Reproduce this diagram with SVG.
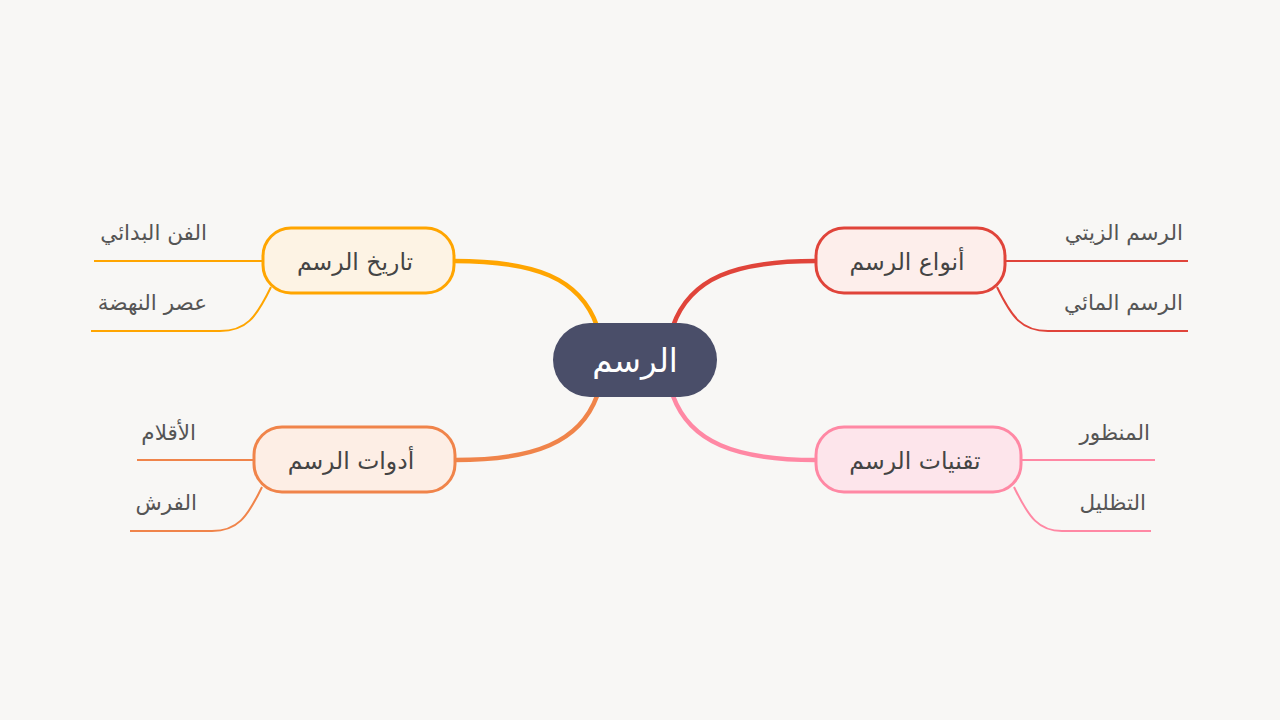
<svg xmlns="http://www.w3.org/2000/svg" width="1280" height="720" viewBox="0 0 1280 720">
<style>
text{font-family:"DejaVu Sans","Noto Sans",sans-serif}
.main{fill:#ffffff;font-size:32.5px;text-anchor:middle}
.lbl{fill:#444444;font-size:23.5px;text-anchor:middle}
.sub{fill:#555555;font-size:21.5px;text-anchor:end}
.c{fill:none;stroke-width:4.5;stroke-linecap:round}
.s{fill:none;stroke-width:2}
</style>
<rect width="1280" height="720" fill="#f8f7f5"/>
<g id="connectors">
<path class="c" stroke="#e0443a" d="M673,326 C690,278 735,261 816,261"/>
<path class="c" stroke="#ffa500" d="M597,326 C580,278 535,261 454,261"/>
<path class="c" stroke="#f0844a" d="M597,396 C580,442 535,460 455,460"/>
<path class="c" stroke="#ff88a4" d="M673,396 C690,442 735,460 816,460"/>
<path class="s" stroke="#e0443a" d="M1005,261 L1188,261"/>
<path class="s" stroke="#e0443a" d="M997,287 C1012,318 1022,331 1048,331 L1188,331"/>
<path class="s" stroke="#ffa500" d="M263,261 L94,261"/>
<path class="s" stroke="#ffa500" d="M271,287 C256,318 246,331 220,331 L91,331"/>
<path class="s" stroke="#f0844a" d="M254,460 L137,460"/>
<path class="s" stroke="#f0844a" d="M262,487 C247,518 237,531 212,531 L130,531"/>
<path class="s" stroke="#ff88a4" d="M1021,460 L1155,460"/>
<path class="s" stroke="#ff88a4" d="M1014,487 C1029,518 1039,531 1062,531 L1151,531"/>
</g>
<g id="center">
<rect x="553" y="323" width="164" height="74" rx="37" fill="#4a4e69"/>
<text class="main" x="635" y="372">الرسم</text>
</g>
<g id="types">
<rect x="816" y="228" width="189" height="65" rx="28" fill="#fdeeeb" stroke="#e0443a" stroke-width="3"/>
<text class="lbl" x="907" y="270">أنواع الرسم</text>
</g>
<g id="history">
<rect x="263" y="228" width="191" height="65" rx="28" fill="#fdf3e4" stroke="#ffa500" stroke-width="3"/>
<text class="lbl" x="355" y="270">تاريخ الرسم</text>
</g>
<g id="tools">
<rect x="254" y="427" width="201" height="65" rx="28" fill="#fdeee5" stroke="#f0844a" stroke-width="3"/>
<text class="lbl" x="351" y="469">أدوات الرسم</text>
</g>
<g id="techniques">
<rect x="816" y="427" width="205" height="65" rx="28" fill="#fde5eb" stroke="#ff88a4" stroke-width="3"/>
<text class="lbl" x="915" y="469">تقنيات الرسم</text>
</g>
<g id="oil"><text class="sub" x="1183" y="240">الرسم الزيتي</text></g>
<g id="water"><text class="sub" x="1183" y="310">الرسم المائي</text></g>
<g id="primitive"><text class="sub" x="207" y="240">الفن البدائي</text></g>
<g id="renaissance"><text class="sub" x="207" y="310">عصر النهضة</text></g>
<g id="pens"><text class="sub" x="196" y="440">الأقلام</text></g>
<g id="brushes"><text class="sub" x="197" y="510">الفرش</text></g>
<g id="perspective"><text class="sub" x="1150" y="440">المنظور</text></g>
<g id="shading"><text class="sub" x="1146" y="510">التظليل</text></g>
</svg>
